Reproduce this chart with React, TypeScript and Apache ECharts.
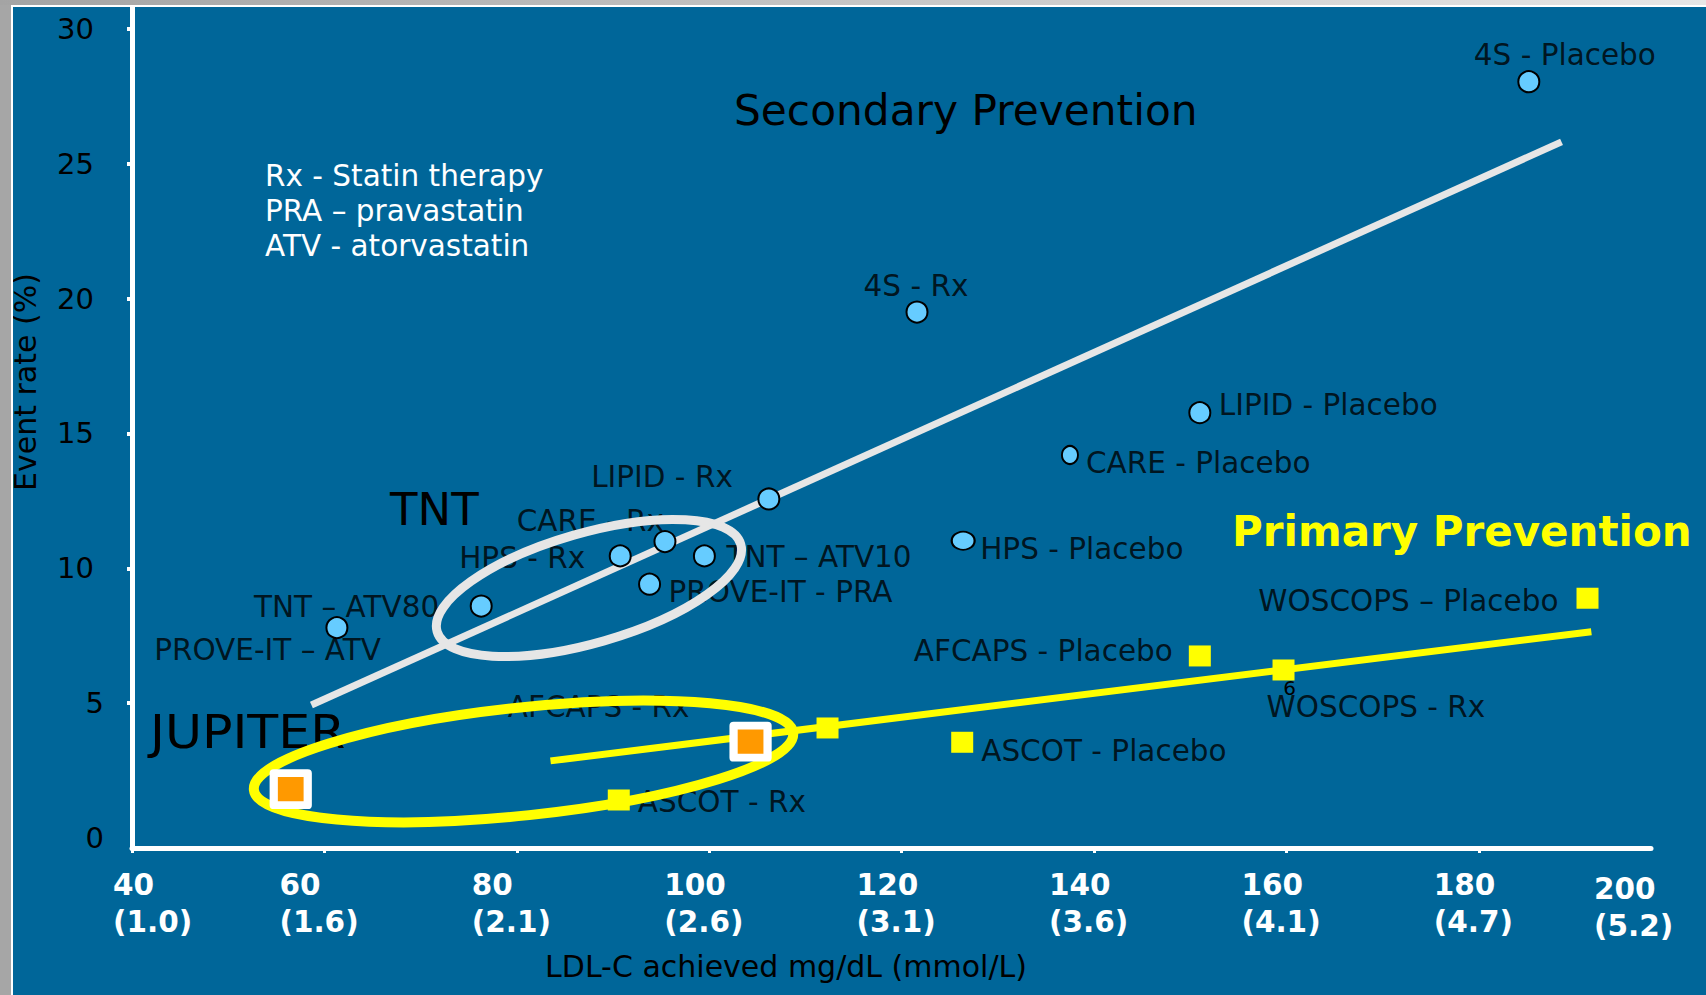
import React, { useEffect, useRef } from 'react';
import * as echarts from 'echarts';

// ---------------- data ----------------
const secondaryTrials = [
  '4S - Placebo', '4S - Rx', 'LIPID - Placebo', 'CARE - Placebo', 'HPS - Placebo',
  'LIPID - Rx', 'CARE - Rx', 'HPS - Rx', 'TNT – ATV10', 'PROVE-IT - PRA',
  'TNT – ATV80', 'PROVE-IT – ATV',
];
const secondaryLDL = [185.2, 121.6, 151.0, 137.5, 126.4, 106.2, 95.4, 90.75, 99.5, 93.8, 76.3, 61.3];
const secondaryRate = [28.04, 19.5, 15.77, 14.2, 11.02, 12.57, 10.99, 10.46, 10.46, 9.41, 8.6, 7.8];

const primaryTrials = ['WOSCOPS – Placebo', 'AFCAPS - Placebo', 'WOSCOPS - Rx', 'AFCAPS - Rx', 'ASCOT - Placebo', 'ASCOT - Rx'];
const primaryLDL = [191.3, 151.0, 159.7, 112.3, 126.3, 90.6];
const primaryRate = [8.89, 6.75, 6.23, 4.08, 3.55, 1.41];

const jupiterArms = ['JUPITER - Rx', 'JUPITER - Placebo'];
const jupiterLDL = [56.5, 104.3];
const jupiterRate = [1.81, 3.57];

const secondaryTrendLDL = [58.65, 188.6];
const secondaryTrendRate = [4.93, 25.81];
const primaryTrendLDL = [83.5, 191.7];
const primaryTrendRate = [2.86, 7.65];

const outlineNames = ['TNT', 'JUPITER'];
const outlineLDL = [87.5, 80.7];
const outlineRate = [9.27, 2.84];

const xTickValues = [40, 60, 80, 100, 120, 140, 160, 180, 200];
const xTickMmol = ['1.0', '1.6', '2.1', '2.6', '3.1', '3.6', '4.1', '4.7', '5.2'];
const yTickValues = [0, 5, 10, 15, 20, 25, 30];

const notes = ['Rx - Statin therapy', 'PRA – pravastatin', 'ATV - atorvastatin'];

// ---------------- layout / style ----------------
const FONT = 'DejaVu Sans';
const secondaryLabelLayout = [
  { align: 'center', dx: 36, dy: -27 },
  { align: 'center', dx: -1, dy: -26 },
  { align: 'left', dx: 19, dy: -8 },
  { align: 'left', dx: 16, dy: 8 },
  { align: 'left', dx: 17, dy: 8 },
  { align: 'right', dx: -36, dy: -21.5 },
  { align: 'right', dx: -1, dy: -21 },
  { align: 'right', dx: -35, dy: 2 },
  { align: 'left', dx: 22, dy: 1.5 },
  { align: 'left', dx: 19, dy: 8 },
  { align: 'right', dx: -42, dy: 1 },
  { align: 'right', dx: 44, dy: 22 },
];
const secondarySymbolSizes: any[] = [21, 21, 21, [16, 18], [23, 18], 21, 21, 21, 21, 21, 21, 21];
const primaryLabelLayout = [
  { align: 'right', dx: -29, dy: 3 },
  { align: 'right', dx: -27, dy: -5 },
  { align: 'left', dx: -17, dy: 37.5 },
  { align: 'right', dx: -138, dy: -20.5 },
  { align: 'left', dx: 19, dy: 9 },
  { align: 'left', dx: 19, dy: 2.5 },
];
const outlineLayout = [
  { rx: 158, ry: 55, rot: 16, color: '#E6E6E6', width: 9 },
  { rx: 271, ry: 54, rot: 6, color: '#FFFF00', width: 10 },
];

const xRichBase = { width: 90, align: 'left', fontSize: 29.5, fontWeight: 'bold', color: '#ffffff', lineHeight: 36.5, fontFamily: FONT };
const xRichGraphic = { width: 90, align: 'left', fontSize: 29.5, fontWeight: 'bold', fill: '#ffffff', lineHeight: 36.5, fontFamily: FONT };
const yRichBase = { fontSize: 29, color: '#000000', fontFamily: FONT };

function labelData(names: string[], xs: number[], ys: number[], layout: any[]) {
  return xs.map((x, i) => ({
    name: names[i],
    value: [x, ys[i]],
    label: {
      show: true,
      position: 'inside',
      formatter: '{b}',
      align: layout[i].align,
      verticalAlign: 'middle',
      offset: [layout[i].dx, layout[i].dy],
    },
  }));
}

export default function App() {
  const ref = useRef<HTMLDivElement>(null);
  useEffect(() => {
    const chart = echarts.init(ref.current!, null, { renderer: 'svg' });
    const labelStyle = { fontSize: 29.5, color: '#000000', fontFamily: FONT };
    const option: any = {
      animation: false,
      backgroundColor: '#006699',
      textStyle: { fontFamily: FONT },
      grid: { left: 132, right: 55, top: 7, bottom: 147, containLabel: false, outerBoundsMode: 'none' },
      xAxis: {
        type: 'value',
        min: 40,
        max: 197.9,
        splitLine: { show: false },
        axisLine: { show: true, onZero: false, lineStyle: { color: '#ffffff', width: 5 } },
        axisTick: { show: true, customValues: xTickValues.slice(0, 8), length: 5, lineStyle: { color: '#ffffff', width: 3 } },
        axisLabel: {
          customValues: xTickValues.slice(0, 8),
          margin: 19,
          formatter: (v: number) => {
            const i = xTickValues.indexOf(v);
            if (i < 0 || i > 7) return '';
            return i === 0 ? `{f|${v}}\n{g|(${xTickMmol[i]})}` : `{a|${v}}\n{b|(${xTickMmol[i]})}`;
          },
          rich: {
            a: xRichBase,
            b: xRichBase,
            f: { ...xRichBase, padding: [0, 0, 0, 52] },
            g: { ...xRichBase, padding: [0, 0, 0, 52] },
          },
        },
      },
      yAxis: {
        type: 'value',
        min: -0.37,
        max: 30.81,
        splitLine: { show: false },
        axisLine: { show: true, onZero: false, lineStyle: { color: '#ffffff', width: 5 } },
        axisTick: { show: true, customValues: yTickValues.slice(1), length: 5, lineStyle: { color: '#ffffff', width: 4 } },
        axisLabel: {
          customValues: yTickValues,
          margin: 28,
          formatter: (v: number) => (v >= 10 ? `{d|${v}}` : `{s|${v}}`),
          rich: { d: { ...yRichBase, padding: [0, 10, 0, 0] }, s: yRichBase },
        },
      },
      series: [
        {
          type: 'scatter', name: 'secondary-labels', z: 1, silent: true, symbolSize: 1,
          itemStyle: { color: 'rgba(0,0,0,0)' },
          label: labelStyle,
          data: labelData(secondaryTrials, secondaryLDL, secondaryRate, secondaryLabelLayout),
        },
        {
          type: 'scatter', name: 'primary-labels', z: 1, silent: true, symbolSize: 1,
          itemStyle: { color: 'rgba(0,0,0,0)' },
          label: labelStyle,
          data: labelData(primaryTrials, primaryLDL, primaryRate, primaryLabelLayout),
        },
        {
          type: 'custom', name: 'outlines', z: 5, silent: true,
          data: outlineLDL.map((x, i) => ({ name: outlineNames[i], value: [x, outlineRate[i]] })),
          renderItem: (params: any, api: any) => {
            const p = api.coord([api.value(0), api.value(1)]);
            const l = outlineLayout[params.dataIndex];
            return {
              type: 'ellipse',
              x: p[0], y: p[1],
              rotation: (l.rot * Math.PI) / 180,
              shape: { cx: 0, cy: 0, rx: l.rx, ry: l.ry },
              style: { fill: 'none', stroke: l.color, lineWidth: l.width },
            };
          },
        },
        {
          type: 'line', name: 'Secondary trend', z: 6, silent: true, symbol: 'none',
          lineStyle: { color: '#E6E6E6', width: 7 },
          data: secondaryTrendLDL.map((x, i) => [x, secondaryTrendRate[i]]),
        },
        {
          type: 'line', name: 'Primary trend', z: 6, silent: true, symbol: 'none',
          lineStyle: { color: '#FFFF00', width: 7 },
          data: primaryTrendLDL.map((x, i) => [x, primaryTrendRate[i]]),
        },
        {
          type: 'scatter', name: 'Secondary prevention', z: 10, symbol: 'circle',
          itemStyle: { color: '#66CCFF', borderColor: '#000000', borderWidth: 2, opacity: 1 },
          data: secondaryLDL.map((x, i) => ({ name: secondaryTrials[i], value: [x, secondaryRate[i]], symbolSize: secondarySymbolSizes[i] })),
        },
        {
          type: 'scatter', name: 'Primary prevention', z: 10, symbol: 'rect', symbolSize: [22, 21],
          itemStyle: { color: '#FFFF00', opacity: 1 },
          data: primaryLDL.map((x, i) => ({ name: primaryTrials[i], value: [x, primaryRate[i]] })),
        },
        {
          type: 'scatter', name: 'JUPITER', z: 11, symbol: 'rect', symbolSize: [34, 32],
          itemStyle: { color: '#FF9900', borderColor: '#ffffff', borderWidth: 8, borderJoin: 'round', opacity: 1 },
          data: jupiterLDL.map((x, i) => ({ name: jupiterArms[i], value: [x, jupiterRate[i]] })),
        },
      ],
      graphic: [
        // slide frame
        { type: 'rect', z: 100, shape: { x: 0, y: 0, width: 11, height: 995 }, style: { fill: '#A6A6A6' } },
        {
          type: 'rect', z: 100, shape: { x: 0, y: 0, width: 1706, height: 5 },
          style: { fill: { type: 'linear', x: 0, y: 0, x2: 1, y2: 0, colorStops: [{ offset: 0, color: '#A4A4A4' }, { offset: 1, color: '#E6E6E6' }] } },
        },
        { type: 'rect', z: 100, shape: { x: 11, y: 5, width: 2, height: 990 }, style: { fill: '#ffffff' } },
        { type: 'rect', z: 100, shape: { x: 11, y: 5, width: 1695, height: 2 }, style: { fill: '#ffffff' } },
        // titles and notes
        { type: 'text', z: 20, x: 734, y: 110, style: { text: 'Secondary Prevention', fontSize: 42.3, fontFamily: FONT, fill: '#000000', align: 'left', verticalAlign: 'middle' } },
        { type: 'text', z: 20, x: 1232, y: 531, style: { text: 'Primary Prevention', fontSize: 42, fontWeight: 'bold', fontFamily: FONT, fill: '#FFFF00', align: 'left', verticalAlign: 'middle' } },
        { type: 'text', z: 2, x: 390, y: 509, style: { text: 'TNT', fontSize: 45, fontFamily: FONT, fill: '#000000', align: 'left', verticalAlign: 'middle' } },
        { type: 'text', z: 2, x: 150, y: 732, scaleX: 1.1, style: { text: 'JUPITER', fontSize: 46, fontFamily: FONT, fill: '#000000', align: 'left', verticalAlign: 'middle' } },
        ...notes.map((t, i) => ({
          type: 'text', z: 20, x: 265, y: 175.5 + i * 35,
          style: { text: t, fontSize: 29.5, fontFamily: FONT, fill: '#ffffff', align: 'left', verticalAlign: 'middle' },
        })),
        { type: 'text', z: 2, x: 1289.5, y: 688, style: { text: '6', fontSize: 20, fontFamily: FONT, fill: '#000000', align: 'center', verticalAlign: 'middle' } },
        // axis titles
        { type: 'text', z: 20, x: 25.5, y: 382, rotation: Math.PI / 2, style: { text: 'Event rate (%)', fontSize: 30, fontFamily: FONT, fill: '#000000', align: 'center', verticalAlign: 'middle' } },
        { type: 'text', z: 20, x: 786, y: 966, style: { text: 'LDL-C achieved mg/dL (mmol/L)', fontSize: 30, fontFamily: FONT, fill: '#000000', align: 'center', verticalAlign: 'middle' } },
        // last x tick label (beyond the drawn axis end)
        {
          type: 'text', z: 20, x: 1594, y: 871,
          style: {
            text: `{a|${xTickValues[8]}}\n{b|(${xTickMmol[8]})}`,
            fill: '#ffffff', fontSize: 29.5, fontWeight: 'bold', fontFamily: FONT,
            align: 'left', verticalAlign: 'top',
            rich: { a: xRichGraphic, b: xRichGraphic },
          },
        },
      ],
    };
    chart.setOption(option);
    return () => chart.dispose();
  }, []);
  return <div ref={ref} style={{ position: 'fixed', left: 0, top: 0, width: 1706, height: 995 }} />;
}
